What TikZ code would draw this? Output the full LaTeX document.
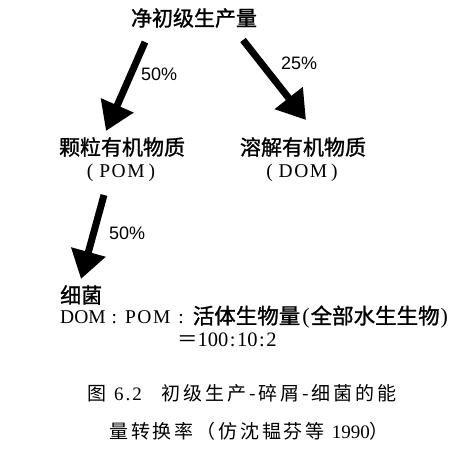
\documentclass[tikz,border=0pt]{standalone}
\usepackage{fontspec}
\setmainfont{Liberation Serif}
\newfontfamily\cjk{Noto Sans CJK SC}[AutoFakeBold=1.2]
\newfontfamily\cjkcap{Noto Sans CJK SC}[LetterSpace=15]
\newfontfamily\pct{Liberation Sans}
\usetikzlibrary{arrows.meta}
\begin{document}
\begin{tikzpicture}[x=1pt,y=-1pt,
  lbl/.style={inner sep=0pt, font=\cjk\bfseries\fontsize{21}{24}\selectfont},
  abbr/.style={inner sep=0pt, font=\rmfamily\fontsize{19.5}{22}\selectfont},
  pctlbl/.style={inner sep=0pt, anchor=west, font=\pct\fontsize{18}{20}\selectfont},
  captext/.style={inner sep=0pt, anchor=west, font=\cjkcap\fontsize{19}{22}\selectfont},
  bigarrow/.style={line width=7pt, -{Triangle[width=34pt,length=28pt]}, shorten >=0pt}]
\useasboundingbox (0,0) rectangle (462,456);
% nodes
\node[lbl] (npp) at (194,18) {净初级生产量};
\node[lbl] (pom) at (122,147) {颗粒有机物质};
\node[abbr] (pomab) at (121,173) {(\hspace{6pt}P\kern1.5pt O\kern1.5pt M\hspace{4pt})};
\node[lbl] (dom) at (303,147) {溶解有机物质};
\node[abbr] (domab) at (302,173) {(\hspace{6pt}D\kern1.5pt O\kern1.5pt M\hspace{4pt})};
\node[lbl, anchor=west] (bac) at (60,295) {细菌};
\node[lbl, anchor=west, font=\cjk\bfseries\fontsize{21.5}{24}\selectfont] (ratio) at (60,317) {{\rmfamily\mdseries\fontsize{19.5}{22}\selectfont DOM\hspace{6pt}:\hspace{8pt}P\kern1.5pt O\kern1.5pt M\hspace{8pt}:\hspace{9pt}}活体生物量{\rmfamily\mdseries\fontsize{22}{24}\selectfont\hspace{2pt}(\hspace{1pt}}全部水生生物{\rmfamily\mdseries\fontsize{22}{24}\selectfont\hspace{1pt})}};
\node[inner sep=0pt, anchor=west, font=\rmfamily\fontsize{20.5}{22}\selectfont] (eq) at (177,340) {{\cjk ＝}100\kern1.5pt :\kern1.5pt 10\kern1.5pt :\kern1.5pt 2};
% percent labels
\node[pctlbl] (p1) at (141,74) {50\%};
\node[pctlbl] (p2) at (281,63) {25\%};
\node[pctlbl] (p3) at (109,233) {50\%};
% arrow end points
\coordinate (a1s) at (145,42);
\coordinate (a1e) at (106,131);
\coordinate (a2s) at (243,40);
\coordinate (a2e) at (306,120);
\coordinate (a3s) at (104,195);
\coordinate (a3e) at (81,279);
\draw[bigarrow] (a1s) -- (a1e);
\draw[bigarrow] (a2s) -- (a2e);
\draw[bigarrow] (a3s) -- (a3e);
% caption
\node[captext] (cap1) at (87,393) {图\hspace{8pt}{\rmfamily 6\kern2pt .\kern2pt 2}\hspace{20pt}初级生产-碎屑-细菌的能};
\node[captext] (cap2) at (109,431) {量转换率（仿沈韫芬等\hspace{7pt}{\rmfamily 1990}）};
\end{tikzpicture}
\end{document}
